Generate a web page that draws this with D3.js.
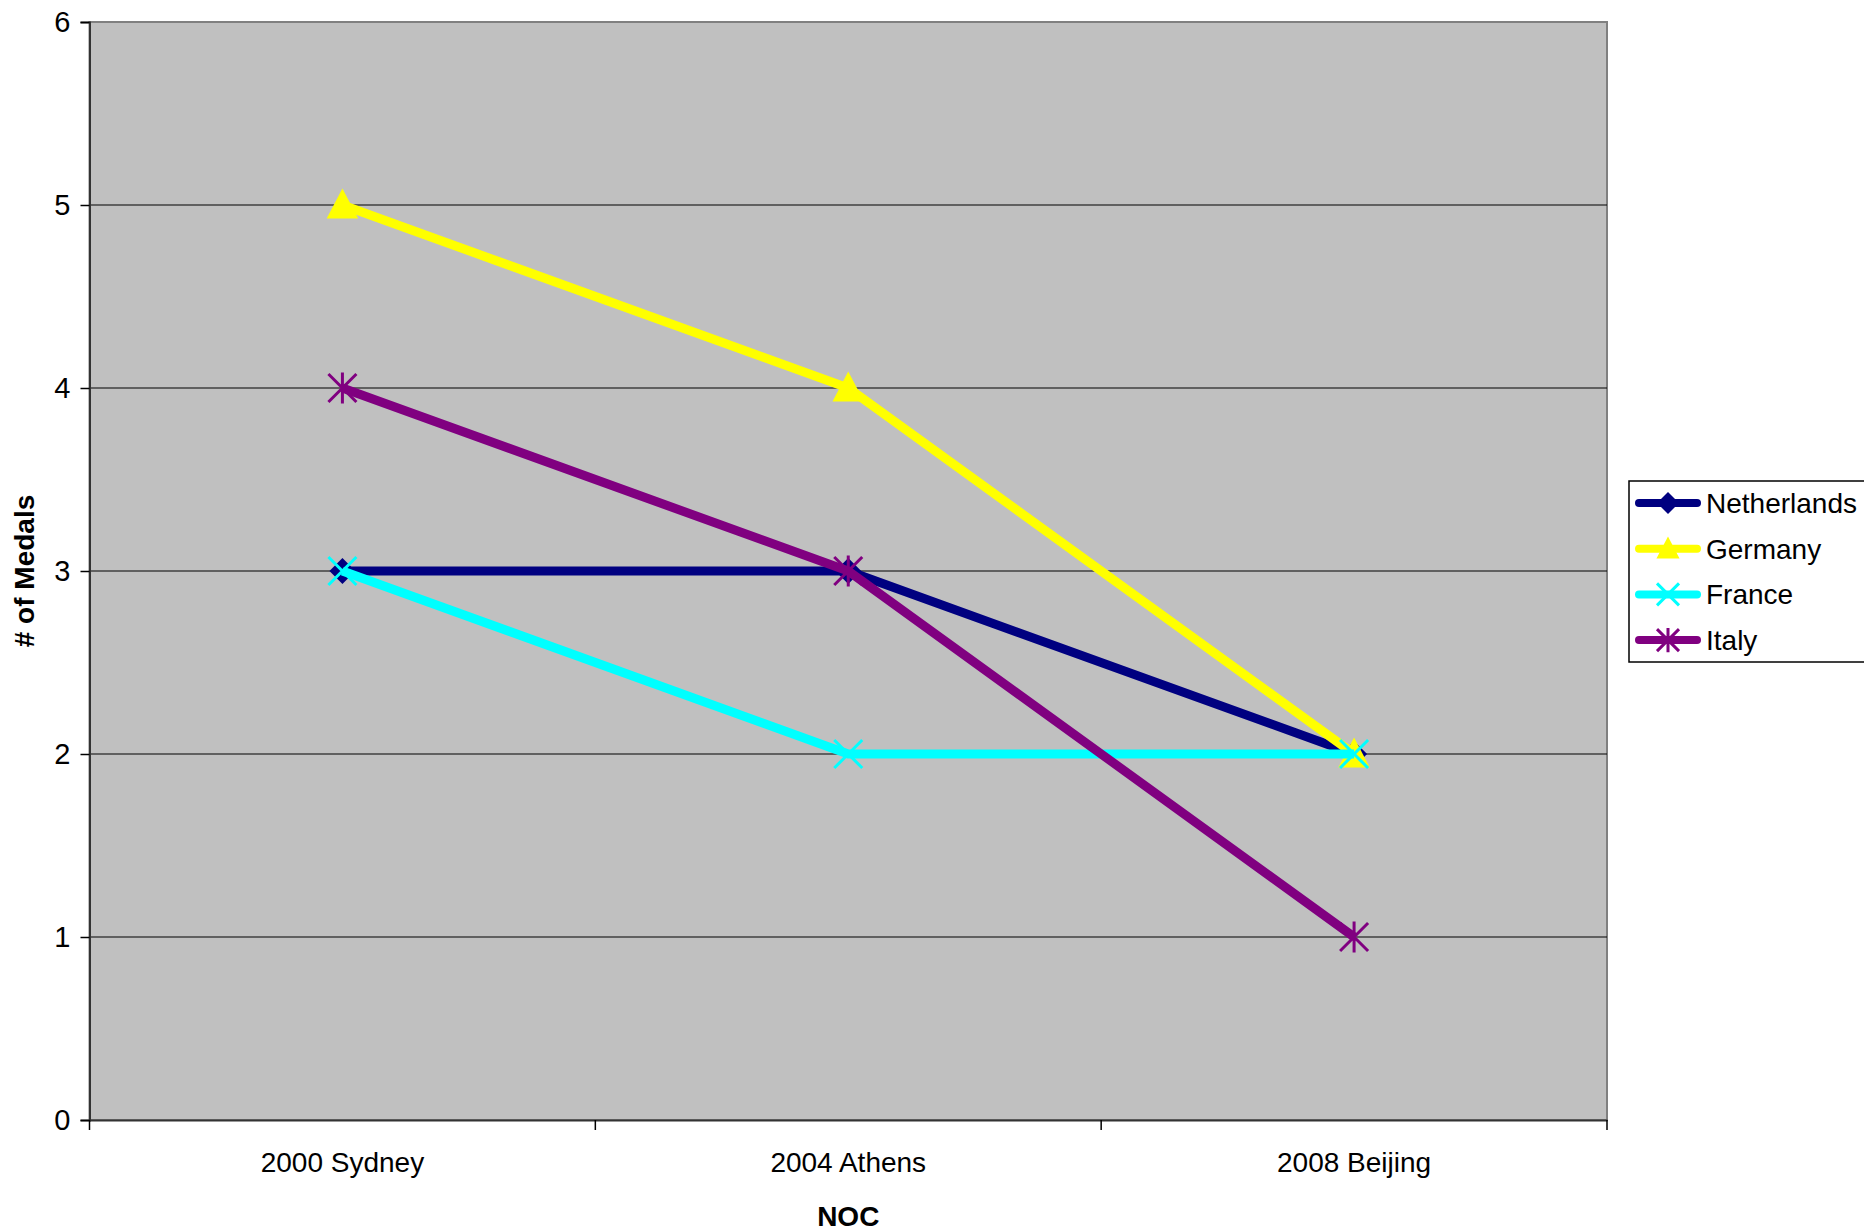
<!DOCTYPE html>
<html><head><meta charset="utf-8">
<script src="https://cdn.jsdelivr.net/npm/d3@7"></script>
<style>body{margin:0;background:#fff}text{font-family:Arial,"Liberation Sans",sans-serif}</style>
</head><body>
<svg id="c" width="1864" height="1232"></svg>
<script>
const categories = ["2000 Sydney", "2004 Athens", "2008 Beijing"];
const seriesNames = ["Netherlands", "Germany", "France", "Italy"];
const netherlands = [3, 3, 2];
const germany = [5, 4, 2];
const france = [3, 2, 2];
const italy = [4, 3, 1];
const yTicks = [0, 1, 2, 3, 4, 5, 6];
const colors = ["#000080", "#FFFF00", "#00FFFF", "#800080"];
const markers = ["diamond", "triangle", "x", "star"];
const seriesValues = [netherlands, germany, france, italy];

const svg = d3.select("#c");
const L = 89.5, R = 1607, T = 22, B = 1120;
const x = d3.scaleBand().domain(categories).range([L, R]);
const y = d3.scaleLinear().domain([0, 6]).range([B, T]);

svg.append("rect").attr("x", L).attr("y", T).attr("width", R - L).attr("height", B - T)
  .attr("fill", "#C0C0C0").attr("stroke", "#808080").attr("stroke-width", 2);

// gridlines
svg.append("g").selectAll("line").data(yTicks.filter(d => d > 0 && d < 6)).join("line")
  .attr("x1", L).attr("x2", R).attr("y1", d => y(d)).attr("y2", d => y(d))
  .attr("stroke", "#000").attr("stroke-width", 1);

// y axis
const ya = svg.append("g").attr("transform", `translate(${L},0)`)
  .call(d3.axisLeft(y).tickValues(yTicks).tickSize(9).tickPadding(10).tickFormat(d3.format("d")));
ya.select(".domain").attr("stroke", "#333").attr("stroke-width", 2);
ya.selectAll(".tick line").attr("stroke", "#000").attr("stroke-width", 1.5);
ya.selectAll("text").attr("font-size", 29).attr("fill", "#000").attr("font-family", "Arial, Liberation Sans, sans-serif");

// x axis
const xa = svg.append("g").attr("transform", `translate(0,${B})`)
  .call(d3.axisBottom(x).tickSize(0).tickPadding(32));
xa.select(".domain").attr("stroke", "#333").attr("stroke-width", 2);
xa.selectAll("text").attr("font-size", 28).attr("fill", "#000").attr("font-family", "Arial, Liberation Sans, sans-serif");
// category boundary ticks
const bounds = [0, 1, 2, 3].map(i => L + i * x.step());
svg.append("g").selectAll("line").data(bounds).join("line")
  .attr("x1", d => d).attr("x2", d => d).attr("y1", B).attr("y2", B + 10)
  .attr("stroke", "#000").attr("stroke-width", 1.5);

// axis titles
svg.append("text").attr("x", (L + R) / 2).attr("y", 1226).attr("text-anchor", "middle")
  .attr("font-size", 28).attr("font-weight", "bold").text("NOC");
svg.append("text").attr("transform", `translate(34,${(T + B) / 2}) rotate(-90)`).attr("text-anchor", "middle")
  .attr("font-size", 28).attr("font-weight", "bold").text("# of Medals");

function drawMarker(g, type, color, cx, cy, s) {
  if (type === "diamond") {
    g.append("path").attr("d", `M${cx},${cy - s}L${cx + s},${cy}L${cx},${cy + s}L${cx - s},${cy}Z`).attr("fill", color);
  } else if (type === "triangle") {
    g.append("path").attr("d", `M${cx},${cy - s * 1.1}L${cx + s * 1.05},${cy + s * 0.9}L${cx - s * 1.05},${cy + s * 0.9}Z`).attr("fill", color);
  } else if (type === "x") {
    g.append("path").attr("d", `M${cx - s},${cy - s}L${cx + s},${cy + s}M${cx - s},${cy + s}L${cx + s},${cy - s}`)
      .attr("stroke", color).attr("stroke-width", 3).attr("fill", "none");
  } else if (type === "star") {
    g.append("path").attr("d", `M${cx - s},${cy - s}L${cx + s},${cy + s}M${cx - s},${cy + s}L${cx + s},${cy - s}M${cx},${cy - s * 1.1}L${cx},${cy + s * 1.1}`)
      .attr("stroke", color).attr("stroke-width", 3).attr("fill", "none");
  }
}

const line = d3.line().x((d, i) => x(categories[i]) + x.bandwidth() / 2).y(d => y(d));
const sizes = [13, 15, 14, 14];
seriesValues.forEach((vals, si) => {
  const g = svg.append("g");
  g.append("path").datum(vals).attr("d", line).attr("fill", "none")
    .attr("stroke", colors[si]).attr("stroke-width", 9);
  vals.forEach((v, i) => drawMarker(g, markers[si], colors[si], x(categories[i]) + x.bandwidth() / 2, y(v), sizes[si]));
});

// legend
const lg = svg.append("g");
lg.append("rect").attr("x", 1629).attr("y", 481).attr("width", 260).attr("height", 181)
  .attr("fill", "#fff").attr("stroke", "#000").attr("stroke-width", 1.5);
seriesNames.forEach((n, i) => {
  const cy = 503 + i * 45.7;
  lg.append("line").attr("x1", 1639).attr("x2", 1697).attr("y1", cy).attr("y2", cy)
    .attr("stroke", colors[i]).attr("stroke-width", 8).attr("stroke-linecap", "round");
  drawMarker(lg, markers[i], colors[i], 1668, cy, 11);
  lg.append("text").attr("x", 1706).attr("y", cy + 10).attr("font-size", 28).text(n);
});
</script>
</body></html>
